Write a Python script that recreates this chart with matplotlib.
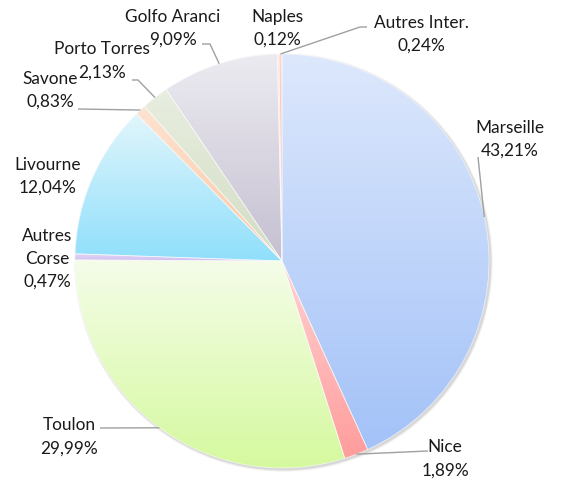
import numpy as np
import matplotlib
matplotlib.use("Agg")
import matplotlib.pyplot as plt
from matplotlib.colors import to_rgb
from matplotlib.patches import Circle

# ---- data ----
labels = ["Marseille", "Nice", "Toulon", "Autres\nCorse", "Livourne", "Savone",
          "Porto Torres", "Golfo Aranci", "Naples", "Autres Inter."]
values = [43.21, 1.89, 29.99, 0.47, 12.04, 0.83, 2.13, 9.09, 0.12, 0.24]
pct_text = ["43,21%", "1,89%", "29,99%", "0,47%", "12,04%", "0,83%",
            "2,13%", "9,09%", "0,12%", "0,24%"]
top_colors = ["#dde8fc", "#ffd3d3", "#f5fdea", "#e6dcf6", "#e2f6fc", "#fde4d2",
              "#e8eee0", "#ecebf1", "#fbe2d8", "#fcd8cf"]
bot_colors = ["#a3c2f8", "#ff9c9c", "#d5f99e", "#cdb9ef", "#8fdffb", "#fbc7a3",
              "#d2ddc3", "#c5bfd0", "#f8c6b3", "#f3a597"]

W, H = 563, 481
fig = plt.figure(figsize=(W / 100, H / 100), dpi=100)
ax = fig.add_axes([0, 0, 1, 1])
ax.set_xlim(0, W)
ax.set_ylim(0, H)
ax.set_autoscale_on(False)
ax.axis("off")

cx, cy, R = 282, H - 262, 207

# subtle shadow
for k, a in [(4, 0.05), (3, 0.07), (2, 0.09), (1, 0.12)]:
    ax.add_patch(Circle((cx + 1.5, cy - 1.5), R + k * 0.6, color="#808080", alpha=a, lw=0, zorder=0.5))

wedges, _ = ax.pie(values, startangle=90, counterclock=False, radius=R, center=(cx, cy),
                   wedgeprops=dict(linewidth=0.6, edgecolor=(1, 1, 1, 0.6)), frame=True)
ax.set_xlim(0, W)
ax.set_ylim(0, H)
ax.axis("off")

for w, ct, cb in zip(wedges, top_colors, bot_colors):
    t1, t2 = np.deg2rad(w.theta1), np.deg2rad(w.theta2)
    th = np.linspace(t1, t2, 200)
    xs = np.concatenate([[cx], cx + R * np.cos(th)])
    ys = np.concatenate([[cy], cy + R * np.sin(th)])
    x0, x1, y0, y1 = xs.min(), xs.max(), ys.min(), ys.max()
    n = 256
    t = np.linspace(0, 1, n)[:, None]
    c0, c1 = np.array(to_rgb(ct)), np.array(to_rgb(cb))
    grad = (1 - t) * c0 + t * c1
    img = ax.imshow(grad[:, None, :], extent=(x0 - 1, x1 + 1, y0 - 1, y1 + 1), origin="upper",
                    aspect="auto", interpolation="bilinear", zorder=1)
    img.set_clip_path(w)
    w.set_facecolor("none")
    w.set_zorder(2)

ax.set_xlim(0, W)
ax.set_ylim(0, H)

# ---- labels (positions in pixel coords, y down) ----
label_pos = [(510, 139.5), (445, 459), (69, 437), (47, 259), (48, 176), (50, 90),
             (102, 61), (173, 28.5), (277, 28.5), (421, 34)]
# leader starting points (label side), None = no leader
leader_start = [[(478, 158)], [(428, 452)], [(100, 429)], None, None,
                [(78, 110)], [(132, 81), (138, 81)], [(202, 45), (210, 45)], None,
                [(367, 28), (360, 28)]]
line_step = 23

txtc = "#1a1a1a"
for i, (lab, pc) in enumerate(zip(labels, pct_text)):
    x, y = label_pos[i]
    lines = lab.split("\n") + [pc]
    nl = len(lines)
    for k, s in enumerate(lines):
        yy = y + (k - (nl - 1) / 2) * line_step
        ax.text(x, H - yy, s, ha="center", va="center", fontsize=12.4,
                family=["Lato", "DejaVu Sans"], color=txtc, zorder=5)
    if leader_start[i] is not None:
        mid = np.deg2rad((wedges[i].theta1 + wedges[i].theta2) / 2)
        ex, ey = cx + R * np.cos(mid), cy + R * np.sin(mid)
        pts = [(px, H - py) for px, py in leader_start[i]] + [(ex, ey)]
        ax.plot([p[0] for p in pts], [p[1] for p in pts], color="#a0a0a0", lw=1, zorder=4,
                solid_capstyle="butt")

fig.savefig("out.png", dpi=100)
